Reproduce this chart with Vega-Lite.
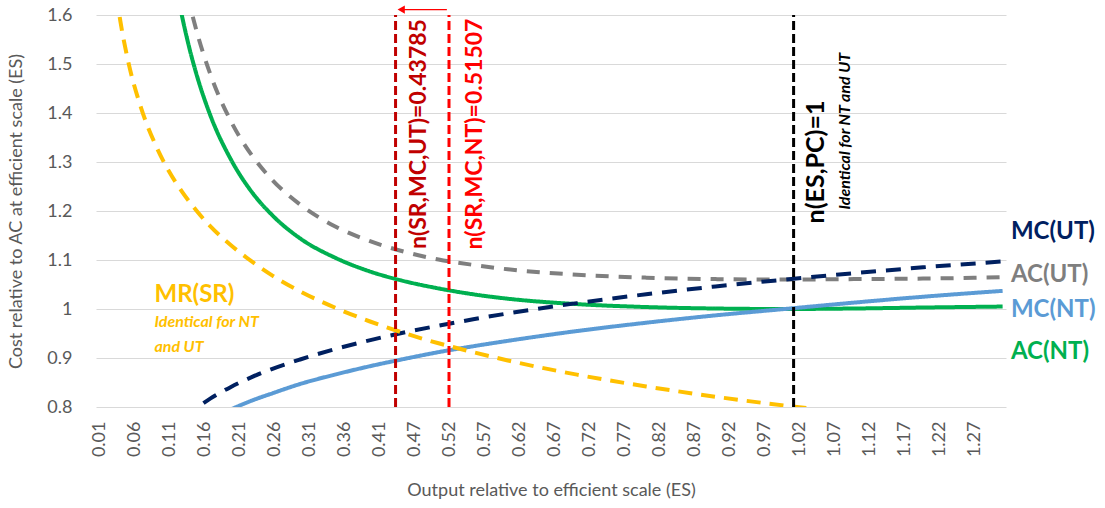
{
  "$schema": "https://vega.github.io/schema/vega-lite/v6.json",
  "width": 910,
  "height": 392,
  "autosize": {"type": "none"},
  "padding": {"left": 96, "top": 15, "right": 99, "bottom": 101},
  "background": "white",
  "config": {"view": {"stroke": null}, "font": "Lato"},
  "datasets": {
    "curves": [
      {"s": "AC(NT)", "q": 0.12, "v": 1.664}, {"s": "AC(NT)", "q": 0.13, "v": 1.593}, {"s": "AC(NT)", "q": 0.14, "v": 1.532}, {"s": "AC(NT)", "q": 0.15, "v": 1.48}, {"s": "AC(NT)", "q": 0.17, "v": 1.396}, {"s": "AC(NT)", "q": 0.2, "v": 1.305}, {"s": "AC(NT)", "q": 0.23, "v": 1.239}, {"s": "AC(NT)", "q": 0.26, "v": 1.191}, {"s": "AC(NT)", "q": 0.3, "v": 1.144}, {"s": "AC(NT)", "q": 0.35, "v": 1.105}, {"s": "AC(NT)", "q": 0.4, "v": 1.077}, {"s": "AC(NT)", "q": 0.45, "v": 1.057}, {"s": "AC(NT)", "q": 0.5, "v": 1.042}, {"s": "AC(NT)", "q": 0.55, "v": 1.03}, {"s": "AC(NT)", "q": 0.6, "v": 1.021}, {"s": "AC(NT)", "q": 0.7, "v": 1.01}, {"s": "AC(NT)", "q": 0.8, "v": 1.004}, {"s": "AC(NT)", "q": 0.9, "v": 1.001}, {"s": "AC(NT)", "q": 1.0, "v": 1.0}, {"s": "AC(NT)", "q": 1.1, "v": 1.001}, {"s": "AC(NT)", "q": 1.2, "v": 1.003}, {"s": "AC(NT)", "q": 1.315, "v": 1.005},
      {"s": "AC(UT)", "q": 0.13, "v": 1.688}, {"s": "AC(UT)", "q": 0.14, "v": 1.624}, {"s": "AC(UT)", "q": 0.15, "v": 1.569}, {"s": "AC(UT)", "q": 0.17, "v": 1.48}, {"s": "AC(UT)", "q": 0.2, "v": 1.383}, {"s": "AC(UT)", "q": 0.23, "v": 1.314}, {"s": "AC(UT)", "q": 0.26, "v": 1.263}, {"s": "AC(UT)", "q": 0.3, "v": 1.213}, {"s": "AC(UT)", "q": 0.35, "v": 1.169}, {"s": "AC(UT)", "q": 0.4, "v": 1.139}, {"s": "AC(UT)", "q": 0.45, "v": 1.117}, {"s": "AC(UT)", "q": 0.5, "v": 1.101}, {"s": "AC(UT)", "q": 0.55, "v": 1.09}, {"s": "AC(UT)", "q": 0.6, "v": 1.081}, {"s": "AC(UT)", "q": 0.7, "v": 1.07}, {"s": "AC(UT)", "q": 0.8, "v": 1.064}, {"s": "AC(UT)", "q": 0.9, "v": 1.061}, {"s": "AC(UT)", "q": 1.0, "v": 1.06}, {"s": "AC(UT)", "q": 1.1, "v": 1.061}, {"s": "AC(UT)", "q": 1.2, "v": 1.062}, {"s": "AC(UT)", "q": 1.315, "v": 1.065},
      {"s": "MC(NT)", "q": 0.17, "v": 0.774}, {"s": "MC(NT)", "q": 0.2, "v": 0.795}, {"s": "MC(NT)", "q": 0.23, "v": 0.813}, {"s": "MC(NT)", "q": 0.26, "v": 0.828}, {"s": "MC(NT)", "q": 0.3, "v": 0.847}, {"s": "MC(NT)", "q": 0.35, "v": 0.866}, {"s": "MC(NT)", "q": 0.4, "v": 0.883}, {"s": "MC(NT)", "q": 0.45, "v": 0.898}, {"s": "MC(NT)", "q": 0.5, "v": 0.912}, {"s": "MC(NT)", "q": 0.55, "v": 0.924}, {"s": "MC(NT)", "q": 0.6, "v": 0.935}, {"s": "MC(NT)", "q": 0.7, "v": 0.955}, {"s": "MC(NT)", "q": 0.8, "v": 0.972}, {"s": "MC(NT)", "q": 0.9, "v": 0.987}, {"s": "MC(NT)", "q": 1.0, "v": 1.0}, {"s": "MC(NT)", "q": 1.1, "v": 1.013}, {"s": "MC(NT)", "q": 1.2, "v": 1.025}, {"s": "MC(NT)", "q": 1.315, "v": 1.037},
      {"s": "MC(UT)", "q": 0.13, "v": 0.78}, {"s": "MC(UT)", "q": 0.15, "v": 0.798}, {"s": "MC(UT)", "q": 0.17, "v": 0.817}, {"s": "MC(UT)", "q": 0.2, "v": 0.841}, {"s": "MC(UT)", "q": 0.23, "v": 0.861}, {"s": "MC(UT)", "q": 0.26, "v": 0.878}, {"s": "MC(UT)", "q": 0.3, "v": 0.897}, {"s": "MC(UT)", "q": 0.35, "v": 0.918}, {"s": "MC(UT)", "q": 0.4, "v": 0.936}, {"s": "MC(UT)", "q": 0.45, "v": 0.952}, {"s": "MC(UT)", "q": 0.5, "v": 0.966}, {"s": "MC(UT)", "q": 0.55, "v": 0.979}, {"s": "MC(UT)", "q": 0.6, "v": 0.991}, {"s": "MC(UT)", "q": 0.7, "v": 1.012}, {"s": "MC(UT)", "q": 0.8, "v": 1.03}, {"s": "MC(UT)", "q": 0.9, "v": 1.046}, {"s": "MC(UT)", "q": 1.0, "v": 1.06}, {"s": "MC(UT)", "q": 1.1, "v": 1.073}, {"s": "MC(UT)", "q": 1.2, "v": 1.085}, {"s": "MC(UT)", "q": 1.315, "v": 1.097},
      {"s": "MR(SR)", "q": 0.03, "v": 1.689}, {"s": "MR(SR)", "q": 0.04, "v": 1.589}, {"s": "MR(SR)", "q": 0.05, "v": 1.515}, {"s": "MR(SR)", "q": 0.07, "v": 1.411}, {"s": "MR(SR)", "q": 0.09, "v": 1.338}, {"s": "MR(SR)", "q": 0.11, "v": 1.282}, {"s": "MR(SR)", "q": 0.13, "v": 1.238}, {"s": "MR(SR)", "q": 0.15, "v": 1.201}, {"s": "MR(SR)", "q": 0.17, "v": 1.169}, {"s": "MR(SR)", "q": 0.2, "v": 1.13}, {"s": "MR(SR)", "q": 0.23, "v": 1.097}, {"s": "MR(SR)", "q": 0.26, "v": 1.068}, {"s": "MR(SR)", "q": 0.3, "v": 1.036}, {"s": "MR(SR)", "q": 0.35, "v": 1.003}, {"s": "MR(SR)", "q": 0.4, "v": 0.975}, {"s": "MR(SR)", "q": 0.45, "v": 0.951}, {"s": "MR(SR)", "q": 0.5, "v": 0.93}, {"s": "MR(SR)", "q": 0.55, "v": 0.912}, {"s": "MR(SR)", "q": 0.6, "v": 0.895}, {"s": "MR(SR)", "q": 0.7, "v": 0.866}, {"s": "MR(SR)", "q": 0.8, "v": 0.842}, {"s": "MR(SR)", "q": 0.9, "v": 0.821}, {"s": "MR(SR)", "q": 1.0, "v": 0.803}, {"s": "MR(SR)", "q": 1.05, "v": 0.795}
    ],
    "vlines": [
      {"s": "UT", "q": 0.43785, "lo": 0.8, "hi": 1.6},
      {"s": "NT", "q": 0.51507, "lo": 0.8, "hi": 1.6},
      {"s": "ES", "q": 1.013, "lo": 0.8, "hi": 1.6}
    ],
    "arrow": [
      {"s": "NT", "q": 0.512, "q2": 0.446, "v": 1.611}
    ],
    "endlabels": [
      {"s": "MC(UT)", "t": "MC(UT)", "q": 1.327, "v": 1.157},
      {"s": "AC(UT)", "t": "AC(UT)", "q": 1.327, "v": 1.07},
      {"s": "MC(NT)", "t": "MC(NT)", "q": 1.327, "v": 0.998},
      {"s": "AC(NT)", "t": "AC(NT)", "q": 1.327, "v": 0.912},
      {"s": "MR(SR)", "t": "MR(SR)", "q": 0.0895, "v": 1.029}
    ],
    "notes": [
      {"s": "MR(SR)", "t": "Identical for NT", "q": 0.0895, "v": 0.973},
      {"s": "MR(SR)", "t": "and UT", "q": 0.0895, "v": 0.922}
    ],
    "vlabels": [
      {"s": "UT", "t": "n(SR,MC,UT)=0.43785", "q": 0.4724, "v": 1.357},
      {"s": "NT", "t": "n(SR,MC,NT)=0.51507", "q": 0.553, "v": 1.357}
    ],
    "eslabel": [
      {"s": "ES", "t": "n(ES,PC)=1", "q": 1.046, "v": 1.3}
    ],
    "esnote": [
      {"s": "ES", "t": "Identical for NT and UT", "q": 1.087, "v": 1.363}
    ]
  },
  "encoding": {
    "x": {
      "field": "q", "type": "quantitative",
      "scale": {"domain": [0.005, 1.3199], "nice": false, "zero": false},
      "axis": {
        "title": "Output relative to efficient scale (ES)",
        "values": [0.01, 0.060575, 0.11115, 0.161725, 0.2123, 0.262875, 0.31345, 0.364025, 0.4146, 0.465175, 0.51575, 0.566325, 0.6169, 0.667475, 0.71805, 0.768625, 0.8192, 0.869775, 0.92035, 0.970925, 1.0215, 1.072075, 1.12265, 1.173225, 1.2238, 1.274375],
        "format": ".2f",
        "labelAngle": -90,
        "labelPadding": 14,
        "labelFontSize": 18,
        "labelColor": "#595959",
        "labelFont": "Lato",
        "ticks": false,
        "domain": false,
        "grid": false,
        "titleFontSize": 18,
        "titleFontWeight": "normal",
        "titleColor": "#595959",
        "titleFont": "Lato",
        "titleY": 83,
        "titleBaseline": "middle"
      }
    },
    "y": {
      "field": "v", "type": "quantitative",
      "scale": {"domain": [0.8, 1.6], "nice": false, "zero": false},
      "axis": {
        "title": "Cost relative to AC at efficient scale (ES)",
        "values": [0.8, 0.9, 1, 1.1, 1.2, 1.3, 1.4, 1.5, 1.6],
        "format": "~g",
        "labelPadding": 24,
        "labelFontSize": 18,
        "labelColor": "#595959",
        "labelFont": "Lato",
        "ticks": false,
        "domain": false,
        "grid": true,
        "gridColor": "#D9D9D9",
        "gridWidth": 1,
        "titleFontSize": 18,
        "titleFontWeight": "normal",
        "titleColor": "#595959",
        "titleFont": "Lato",
        "titleX": -80,
        "titleY": 196,
        "titleAngle": -90,
        "titleBaseline": "middle",
        "titleAlign": "center"
      }
    },
    "color": {
      "field": "s", "type": "nominal", "legend": null,
      "scale": {
        "domain": ["AC(NT)", "MC(NT)", "AC(UT)", "MC(UT)", "MR(SR)", "UT", "NT", "ES"],
        "range": ["#00B050", "#5B9BD5", "#7F7F7F", "#002060", "#FFC000", "#C00000", "#FF0000", "#000000"]
      }
    }
  },
  "layer": [
    {
      "data": {"name": "curves"},
      "mark": {"type": "line", "clip": true, "strokeWidth": 4, "interpolate": "monotone"},
      "encoding": {
        "strokeDash": {
          "field": "s", "type": "nominal", "legend": null,
          "scale": {"domain": ["AC(NT)", "MC(NT)", "AC(UT)", "MC(UT)", "MR(SR)"], "range": [[1, 0], [1, 0], [13, 10], [15, 10], [14, 9]]}
        }
      }
    },
    {
      "data": {"name": "vlines"},
      "mark": {"type": "rule", "strokeWidth": 3, "strokeDash": [9, 4]},
      "encoding": {"y": {"field": "lo", "type": "quantitative"}, "y2": {"field": "hi"}}
    },
    {
      "data": {"name": "arrow"},
      "mark": {"type": "rule", "strokeWidth": 1.2, "clip": false},
      "encoding": {"x2": {"field": "q2"}}
    },
    {
      "data": {"name": "arrow"},
      "mark": {"type": "point", "shape": "triangle-left", "filled": true, "opacity": 1, "size": 70, "clip": false},
      "encoding": {"x": {"field": "q2", "type": "quantitative"}}
    },
    {
      "data": {"name": "endlabels"},
      "mark": {"type": "text", "align": "left", "baseline": "middle", "fontSize": 24, "fontWeight": "bold", "font": "Lato", "clip": false},
      "encoding": {"text": {"field": "t"}}
    },
    {
      "data": {"name": "notes"},
      "mark": {"type": "text", "align": "left", "baseline": "middle", "fontSize": 16, "fontWeight": "bold", "fontStyle": "italic", "font": "Lato"},
      "encoding": {"text": {"field": "t"}}
    },
    {
      "data": {"name": "vlabels"},
      "mark": {"type": "text", "align": "center", "baseline": "middle", "angle": 270, "fontSize": 23, "fontWeight": "bold", "font": "Lato"},
      "encoding": {"text": {"field": "t"}}
    },
    {
      "data": {"name": "eslabel"},
      "mark": {"type": "text", "align": "center", "baseline": "middle", "angle": 270, "fontSize": 25, "fontWeight": "bold", "font": "Lato"},
      "encoding": {"text": {"field": "t"}}
    },
    {
      "data": {"name": "esnote"},
      "mark": {"type": "text", "align": "center", "baseline": "middle", "angle": 270, "fontSize": 16, "fontWeight": "bold", "fontStyle": "italic", "font": "Lato"},
      "encoding": {"text": {"field": "t"}}
    }
  ]
}
